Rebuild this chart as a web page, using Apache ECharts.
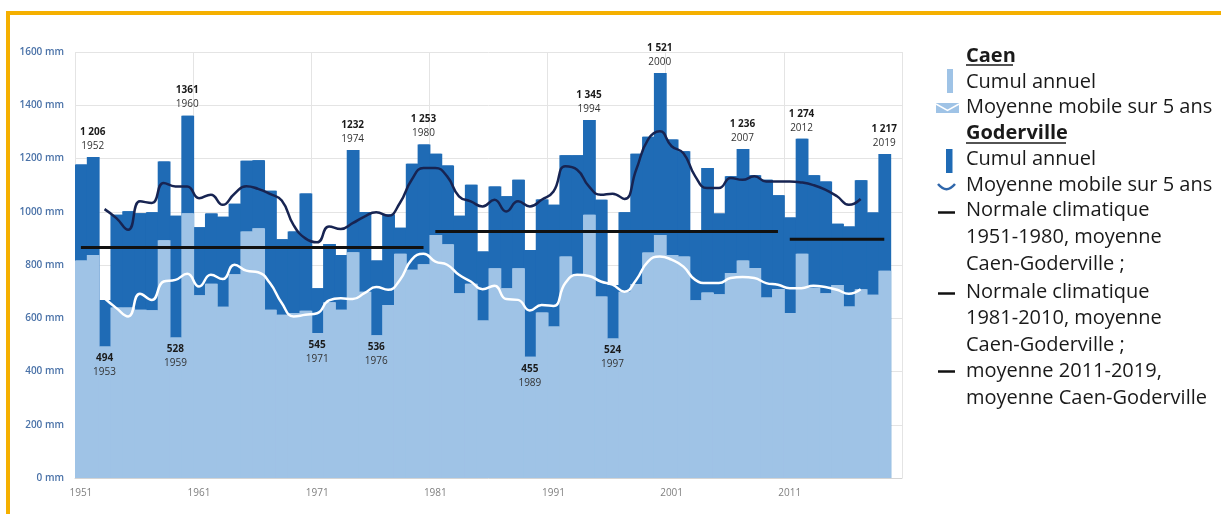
<!DOCTYPE html>
<html><head><meta charset="utf-8">
<script src="https://cdn.jsdelivr.net/npm/echarts@6/dist/echarts.min.js"></script>
<style>html,body{margin:0;padding:0;background:#fff;}#c{width:1221px;height:514px;}</style>
</head><body><div id="c"></div>
<script>
const years = ['1951','1952','1953','1954','1955','1956','1957','1958','1959','1960',
 '1961','1962','1963','1964','1965','1966','1967','1968','1969','1970',
 '1971','1972','1973','1974','1975','1976','1977','1978','1979','1980',
 '1981','1982','1983','1984','1985','1986','1987','1988','1989','1990',
 '1991','1992','1993','1994','1995','1996','1997','1998','1999','2000',
 '2001','2002','2003','2004','2005','2006','2007','2008','2009','2010',
 '2011','2012','2013','2014','2015','2016','2017','2018','2019','2020'];

const goderville = [1177,1206,669,989,1002,994,998,1189,985,1361,
 942,993,981,1030,1192,1193,1079,897,926,1069,
 713,879,838,1232,999,817,990,940,1180,1253,
 1218,1174,985,1101,851,1095,1058,1120,856,1046,
 1026,1212,1212,1345,1045,725,998,1218,1282,1521,
 1271,1227,920,1164,993,1133,1236,1137,1120,1062,
 978,1274,1137,1114,955,945,1118,997,1217,null];

const caen = [817,838,494,640,640,632,630,893,528,994,
 686,730,643,765,926,938,632,613,620,628,
 545,660,632,848,700,536,650,842,782,803,
 913,878,694,730,592,788,713,788,455,622,
 569,832,759,989,682,524,700,729,847,913,
 838,832,668,697,690,770,817,789,678,710,
 620,842,715,694,725,644,709,688,778,null];

const godervilleMA = [null,null,1010,976,932,1039,1033,1108,1095,1095,
 1051,1064,1026,1068,1096,1086,1067,1042,950,900,
 885,945,935,957,982,998,985,1033,1120,1164,
 1164,1133,1058,1039,1020,1045,1001,1039,1020,1045,
 1076,1171,1158,1095,1064,1068,1048,1158,1271,1302,
 1246,1220,1133,1089,1089,1127,1120,1133,1114,1114,
 1114,1110,1100,1083,1058,1026,1048,null,null,null];

const caenMA = [null,null,675,638,607,692,669,738,744,767,
 719,763,747,801,779,773,732,657,607,613,
 619,667,675,672,694,717,707,744,820,842,
 813,801,763,738,709,722,672,669,629,650,
 646,732,763,759,738,726,700,744,813,832,
 820,794,744,732,732,751,755,751,732,726,
 713,713,722,717,707,692,709,null,null,null];

// climate normals: [first year, last year, value]
const normals = [['1951','1980',866],['1981','2010',926],['2011','2019',897]];

const peakYears = ['1952','1960','1974','1980','1994','2000','2007','2012','2019'];
const peakValueTexts = ['1 206','1361','1232','1 253','1 345','1 521','1 236','1 274','1 217'];
const lowYears = ['1953','1959','1971','1976','1989','1996'];
const lowValueTexts = ['494','528','545','536','455','524'];
const lowYearTexts = ['1953','1959','1971','1976','1989','1997'];

const DARK = '#1f6bb5', LIGHT = '#9fc3e6', NAVY = '#172452';
const FONT = '"Open Sans", "Noto Sans", sans-serif';

const rich = {
  v: {fontFamily: FONT, fontSize: 10, fontWeight: 'bold', color: '#1a1a1a', lineHeight: 14, align: 'center'},
  y: {fontFamily: FONT, fontSize: 10, color: '#333', lineHeight: 14, align: 'center'}
};

const godData = goderville.map((v, i) => {
  const k = peakYears.indexOf(years[i]);
  if (k < 0) return v;
  return {value: v, label: {show: true, position: 'top', distance: 4,
    formatter: '{v|' + peakValueTexts[k] + '}\n{y|' + years[i] + '}', rich: rich}};
});
const caenData = caen.map((v, i) => {
  const k = lowYears.indexOf(years[i]);
  if (k < 0) return v;
  return {value: v, label: {show: true, position: 'insideTop', distance: 5,
    formatter: '{v|' + lowValueTexts[k] + '}\n{y|' + lowYearTexts[k] + '}', rich: rich}};
});

const normalSeries = normals.map(n => ({
  type: 'line', symbol: 'none', silent: true, z: 4,
  lineStyle: {color: '#111', width: 3},
  data: years.map(y => (y >= n[0] && y <= n[1]) ? n[2] : null)
}));

const chart = echarts.init(document.getElementById('c'));

const legendLines = [
  ['Caen', true, 56], ['Cumul annuel', false, 82], ['Moyenne mobile sur 5 ans', false, 107],
  ['Goderville', true, 133], ['Cumul annuel', false, 159], ['Moyenne mobile sur 5 ans', false, 185],
  ['Normale climatique', false, 210], ['1951-1980, moyenne', false, 237], ['Caen-Goderville ;', false, 264],
  ['Normale climatique', false, 292], ['1981-2010, moyenne', false, 318], ['Caen-Goderville ;', false, 345],
  ['moyenne 2011-2019,', false, 371], ['moyenne Caen-Goderville', false, 398]
];
const graphics = [
  {type: 'rect', shape: {x: 6, y: 11, width: 1215, height: 4}, style: {fill: '#f5b000'}, silent: true},
  {type: 'rect', shape: {x: 6, y: 11, width: 4, height: 503}, style: {fill: '#f5b000'}, silent: true},
  {type: 'rect', shape: {x: 947, y: 69, width: 6, height: 24}, style: {fill: LIGHT}},
  {type: 'rect', shape: {x: 936, y: 103, width: 23, height: 10}, style: {fill: LIGHT}},
  {type: 'polyline', shape: {points: [[936, 104], [947.5, 110.5], [959, 104]]}, style: {stroke: '#fff', lineWidth: 1.5, fill: null}},
  {type: 'rect', shape: {x: 946, y: 149, width: 6.5, height: 24}, style: {fill: DARK}},
  {type: 'bezierCurve', shape: {x1: 938, y1: 184, cpx1: 944, cpy1: 191, cpx2: 949, cpy2: 191, x2: 955, y2: 184}, style: {stroke: '#2f67ab', lineWidth: 2.5, fill: null}},
  {type: 'line', shape: {x1: 938, y1: 212.5, x2: 955, y2: 212.5}, style: {stroke: '#111', lineWidth: 2.5}},
  {type: 'line', shape: {x1: 938, y1: 293.5, x2: 955, y2: 293.5}, style: {stroke: '#111', lineWidth: 2.5}},
  {type: 'line', shape: {x1: 938, y1: 371.5, x2: 955, y2: 371.5}, style: {stroke: '#111', lineWidth: 2.5}}
];
legendLines.forEach(l => {
  graphics.push({type: 'text', style: {text: l[0], x: 966, y: l[2], fill: '#1a1a1a',
    font: (l[1] ? 'bold ' : '') + '20px ' + FONT, verticalAlign: 'middle', align: 'left'}});
});
graphics.push({type: 'line', shape: {x1: 966, y1: 65, x2: 1013, y2: 65}, style: {stroke: '#1a1a1a', lineWidth: 1.6}});
graphics.push({type: 'line', shape: {x1: 966, y1: 143, x2: 1066, y2: 143}, style: {stroke: '#1a1a1a', lineWidth: 1.6}});

chart.setOption({
  animation: false,
  backgroundColor: '#fff',
  grid: {left: 75, right: 319, top: 52, bottom: 36, containLabel: false},
  xAxis: {
    type: 'category', data: years, boundaryGap: true,
    axisLine: {show: true, lineStyle: {color: '#d4d4d4', width: 1}},
    axisTick: {show: false, interval: 9},
    axisLabel: {interval: 9, color: '#808080', fontSize: 10, fontFamily: FONT, margin: 10},
    splitLine: {show: true, interval: 9, lineStyle: {color: '#e4e4e4', width: 1}}
  },
  yAxis: {
    type: 'value', min: 0, max: 1600, interval: 200,
    axisLine: {show: false}, axisTick: {show: false},
    axisLabel: {formatter: v => v + ' mm', color: '#4a72a8', fontSize: 10, fontWeight: 600, fontFamily: FONT, margin: 11},
    splitLine: {lineStyle: {color: '#e4e4e4', width: 1}}
  },
  series: [
    {name: 'Goderville', type: 'bar', data: godData, barGap: '-100%', barCategoryGap: '0%',
      itemStyle: {color: DARK, shadowColor: DARK, shadowBlur: 0, shadowOffsetX: 1}, z: 2},
    {name: 'Caen', type: 'bar', data: caenData, barGap: '-100%', barCategoryGap: '0%',
      itemStyle: {color: LIGHT, shadowColor: LIGHT, shadowBlur: 0, shadowOffsetX: 1}, z: 2},
    {name: 'Caen MA', type: 'line', data: caenMA, smooth: 0.5, symbol: 'none', z: 5,
      lineStyle: {color: '#ffffff', width: 2.5}},
    {name: 'Goderville MA', type: 'line', data: godervilleMA, smooth: 0.5, symbol: 'none', z: 5,
      lineStyle: {color: NAVY, width: 2.5}}
  ].concat(normalSeries),
  graphic: graphics
});
</script></body></html>
